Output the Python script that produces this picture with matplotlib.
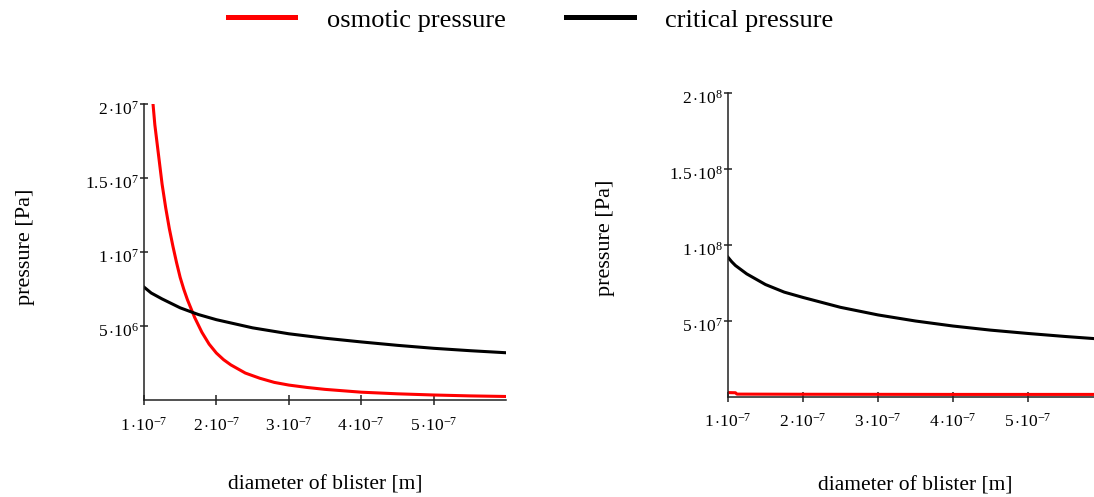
import numpy as np
import matplotlib.pyplot as plt
import matplotlib.transforms as mtransforms
from matplotlib.lines import Line2D

plt.rcParams['font.family'] = 'Liberation Serif'
plt.rcParams['mathtext.fontset'] = 'custom'
plt.rcParams['mathtext.rm'] = 'Liberation Serif'
plt.rcParams['mathtext.it'] = 'Liberation Serif:italic'
plt.rcParams['mathtext.bf'] = 'Liberation Serif:bold'

# Left panel: diameter [1e-7 m] and pressure [Pa]
d_osm_left = np.array([1.125, 1.15, 1.2, 1.25, 1.3, 1.35, 1.4, 1.45, 1.5, 1.55, 1.6, 1.65,
                       1.7, 1.75, 1.8, 1.9, 2.0, 2.1, 2.2, 2.4, 2.6, 2.8, 3.0, 3.25, 3.5,
                       4.0, 4.5, 5.0, 5.5, 6.0]) * 1e-7
p_osm_left = np.array([2.0e7, 1.86e7, 1.66e7, 1.46e7, 1.30e7, 1.16e7, 1.04e7, 9.3e6, 8.3e6,
                       7.5e6, 6.8e6, 6.2e6, 5.6e6, 5.1e6, 4.6e6, 3.8e6, 3.2e6, 2.75e6, 2.4e6,
                       1.85e6, 1.5e6, 1.22e6, 1.04e6, 8.8e5, 7.5e5, 5.6e5, 4.5e5, 3.7e5,
                       3.1e5, 2.7e5])
d_crit_left = np.array([1.0, 1.1, 1.25, 1.5, 1.75, 2.0, 2.5, 3.0, 3.5, 4.0, 4.5, 5.0, 5.5, 6.0]) * 1e-7
p_crit_left = np.array([7.65e6, 7.25e6, 6.85e6, 6.25e6, 5.8e6, 5.45e6, 4.9e6, 4.5e6, 4.2e6,
                        3.95e6, 3.72e6, 3.52e6, 3.36e6, 3.22e6])

# Right panel
d_osm_right = np.array([1.0, 1.1, 1.12, 2.0, 3.0, 4.0, 5.0, 6.0]) * 1e-7
p_osm_right = np.array([2.9e6, 2.8e6, 1.9e6, 1.8e6, 1.75e6, 1.7e6, 1.7e6, 1.7e6])
d_crit_right = np.array([1.0, 1.05, 1.1, 1.25, 1.5, 1.75, 2.0, 2.5, 3.0, 3.5, 4.0, 4.5, 5.0,
                         5.5, 6.0]) * 1e-7
p_crit_right = np.array([9.2e7, 8.9e7, 8.65e7, 8.1e7, 7.4e7, 6.9e7, 6.55e7, 5.9e7, 5.4e7,
                         5.0e7, 4.67e7, 4.4e7, 4.18e7, 3.98e7, 3.8e7])

x_ticks = np.array([1, 2, 3, 4, 5]) * 1e-7
x_labels = [r'$1\,{\cdot}10^{-7}$', r'$2\,{\cdot}10^{-7}$', r'$3\,{\cdot}10^{-7}$',
            r'$4\,{\cdot}10^{-7}$', r'$5\,{\cdot}10^{-7}$']
y_ticks_left = [5e6, 1e7, 1.5e7, 2e7]
y_labels_left = [r'$5\,{\cdot}10^{6}$', r'$1\,{\cdot}10^{7}$', r'$1.5\,{\cdot}10^{7}$', r'$2\,{\cdot}10^{7}$']
y_ticks_right = [5e7, 1e8, 1.5e8, 2e8]
y_labels_right = [r'$5\,{\cdot}10^{7}$', r'$1\,{\cdot}10^{8}$', r'$1.5\,{\cdot}10^{8}$', r'$2\,{\cdot}10^{8}$']

RED = '#ff0000'
BLACK = '#000000'

fig = plt.figure(figsize=(10.94, 4.97), dpi=100)
ax1 = fig.add_axes([0.1316, 0.1942, 0.3309, 0.5966])
ax2 = fig.add_axes([0.6654, 0.2012, 0.3428, 0.6117])


def style_axes(ax, yticks, ylabels, ymax, xlab_y, ylab_x, ylab_y):
    ax.set_xlim(1e-7, 6e-7)
    ax.set_ylim(0, ymax)
    for s in ['top', 'right']:
        ax.spines[s].set_visible(False)
    for s in ['left', 'bottom']:
        ax.spines[s].set_linewidth(1.1)
        ax.spines[s].set_color('#222222')
    ax.set_xticks(x_ticks, x_labels)
    ax.set_yticks(yticks, ylabels)
    ax.tick_params(axis='x', direction='inout', length=7, width=1.1, pad=8,
                   labelsize=12.5, color='#222222')
    ax.tick_params(axis='y', direction='inout', length=6, width=1.1, pad=0.5,
                   labelsize=12.5, color='#222222')
    # y tick labels sit a little below their ticks in the original
    shift = mtransforms.ScaledTranslation(0, -2.5 / 72, fig.dpi_scale_trans)
    for lab in ax.get_yticklabels():
        lab.set_transform(lab.get_transform() + shift)
    ax.set_xlabel('diameter of blister [m]', fontsize=15.5)
    ax.set_ylabel('pressure [Pa]', fontsize=16)
    ax.xaxis.set_label_coords(0.5, xlab_y)
    ax.yaxis.set_label_coords(ylab_x, ylab_y)


ax1.plot(d_osm_left, p_osm_left, color=RED, lw=2.2)
ax1.plot(d_crit_left, p_crit_left, color=BLACK, lw=2.2)
style_axes(ax1, y_ticks_left, y_labels_left, 2e7, -0.254, -0.30, 0.517)

ax2.plot(d_osm_right, p_osm_right, color=RED, lw=2.2)
ax2.plot(d_crit_right, p_crit_right, color=BLACK, lw=2.2)
style_axes(ax2, y_ticks_right, y_labels_right, 2e8, -0.26, -0.30, 0.522)

handles = [Line2D([], [], color=RED, lw=3.6), Line2D([], [], color=BLACK, lw=3.6)]
fig.legend(handles, ['osmotic pressure', 'critical pressure'], loc='center',
           bbox_to_anchor=(0.485, 0.96), ncol=2, frameon=False, fontsize=19,
           handlelength=2.55, handletextpad=1.2, columnspacing=2.3)

fig.savefig('out.png', dpi=100)
